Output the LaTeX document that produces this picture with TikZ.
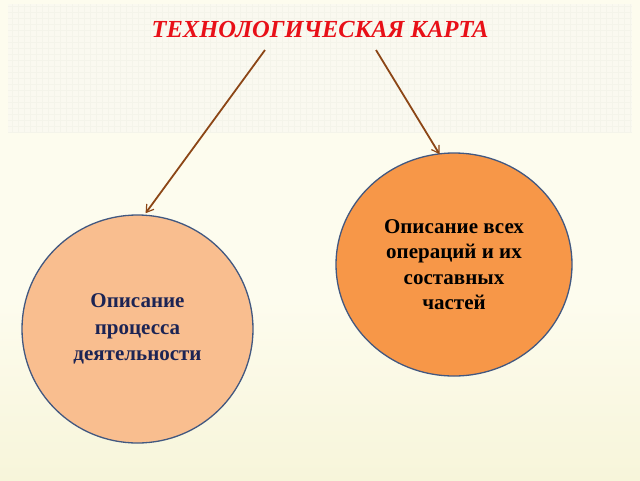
\documentclass[tikz,border=0pt]{standalone}
\usepackage{fontspec}
\setmainfont{Liberation Serif}
\usetikzlibrary{arrows.meta,shapes.geometric}
\definecolor{bgcream}{RGB}{253,252,238}
\definecolor{bandcol}{RGB}{250,249,240}
\definecolor{gridcol}{RGB}{244,244,234}
\definecolor{greenish}{RGB}{247,245,218}
\definecolor{titlered}{RGB}{232,16,24}
\definecolor{arrowbrown}{RGB}{140,70,22}
\definecolor{lightorange}{RGB}{249,190,143}
\definecolor{darkorange}{RGB}{247,151,72}
\definecolor{rimblue}{RGB}{66,88,128}
\definecolor{navytext}{RGB}{28,36,84}
\tikzset{
  blob/.style={ellipse, draw=rimblue, line width=1.3pt, inner sep=0pt, align=center},
  link/.style={draw=arrowbrown, line width=1.8pt, -{Straight Barb[length=7pt,width=9pt,line width=1.2pt]}, shorten >=1pt},
}
\begin{document}
\begin{tikzpicture}[x=1pt,y=-1pt]
\useasboundingbox (0,0) rectangle (640,480);
\fill[bgcream] (0,0) rectangle (640,480);
\shade[top color=bgcream, bottom color=greenish] (0,300) rectangle (640,480);
\fill[bandcol] (8,4) rectangle (632,132);
\draw[gridcol, line width=0.3pt, step=6pt] (8,4) grid (632,132);
\node[font=\bfseries\itshape\fontsize{24.5}{28}\selectfont, text=titlered] (title) at (320,30) {ТЕХНОЛОГИЧЕСКАЯ КАРТА};
\node[blob, fill=lightorange, text=navytext, font=\bfseries\fontsize{21}{26.5}\selectfont, minimum width=231pt, minimum height=228pt] (left) at (137.5,329) {Описание\\процесса\\деятельности};
\node[blob, fill=darkorange, text=black, font=\bfseries\fontsize{21}{25.5}\selectfont, minimum width=236pt, minimum height=223pt] (right) at (454,264.5) {Описание всех\\операций и их\\составных\\частей};
\coordinate (lstart) at (265,50);
\coordinate (rstart) at (376,50);
\draw[link] (lstart) -- (145,214);
\draw[link] (rstart) -- (440,155);
\end{tikzpicture}
\end{document}
